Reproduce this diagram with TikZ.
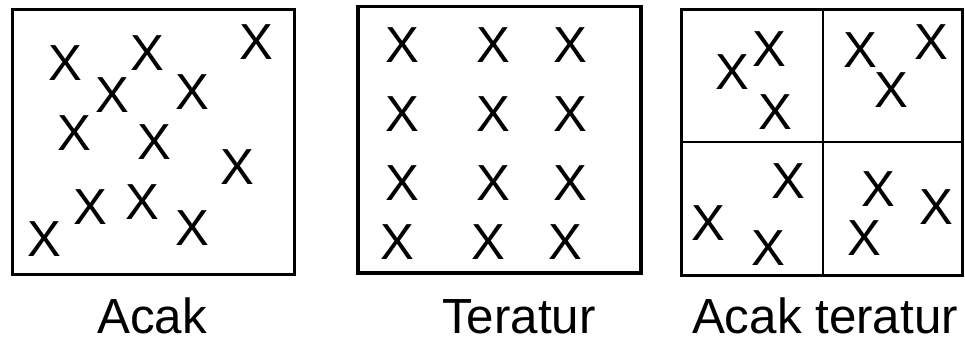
\documentclass[tikz,border=0pt]{standalone}
\usepackage{fontspec}
\setmainfont{Liberation Sans}

\tikzset{
  boxline/.style={draw=black, line width=2.3pt},
  quadline/.style={draw=black, line width=1.1pt},
  cross/.style={inner sep=0pt, font=\fontsize{38}{40}\selectfont},
  labeltext/.style={inner sep=0pt, anchor=base, font=\fontsize{37}{40}\selectfont}
}

\begin{document}
\begin{tikzpicture}[x=0.75pt, y=-0.75pt]

  \useasboundingbox (0,0) rectangle (965,343);

  % -- Acak box --
  \draw[boxline] (12.5,9.5) rectangle (294.5,274.5);
  \foreach \px/\py [count=\i] in {65/63, 147/53, 256/42, 112/95, 192/92, 74/133,
      154/142, 237/167, 90/207, 142/202, 192/228, 44/239}
    \node[cross] (acak\i) at (\px,\py) {X};
  \node[labeltext] (lblacak) at (152,333.5) {Acak};

  % -- Teratur box --
  \draw[boxline] (358,6.5) rectangle (641,273);
  \foreach \py [count=\r] in {45, 114.3, 183.3}
    \foreach \px [count=\c] in {402.7, 493.3, 570.7}
      \node[cross] (tera\r\c) at (\px,\py) {X};
  \foreach \px [count=\c] in {397.7, 488.3, 565.7}
    \node[cross] (tera4\c) at (\px,241.7) {X};
  \node[labeltext] (lblteratur) at (519,333.5) {Teratur};

  % -- Acak teratur box, four quadrants --
  \draw[boxline] (681.5,9.5) rectangle (962.5,275.5);
  \draw[quadline] (823,9.5) -- (823,275.5);
  \draw[quadline] (681.5,142) -- (962.5,142);
  \foreach \px/\py [count=\i] in {732.3/72.3, 769/49, 775/111.7,
      860/50, 931.7/42.3, 891/90,
      788.3/181, 708.3/222.7, 768.3/248.3,
      878.3/189.3, 936/206.7, 864/238.3}
    \node[cross] (quad\i) at (\px,\py) {X};
  \node[labeltext] (lblquad) at (825,333.5) {Acak teratur};

\end{tikzpicture}
\end{document}
